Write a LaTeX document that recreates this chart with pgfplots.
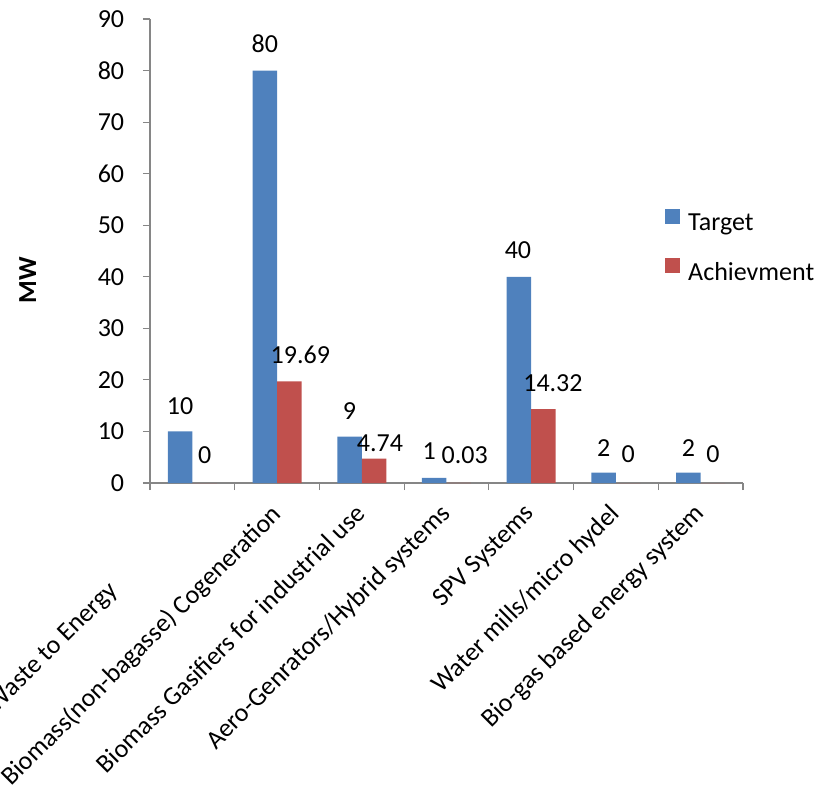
\documentclass[border=0pt]{standalone}
\usepackage{fontspec}
\setmainfont{Carlito}
\usepackage{pgfplots}
\pgfplotsset{compat=1.18}
\usepackage{pgfplotstable}

\definecolor{tgt}{HTML}{4F81BD}
\definecolor{ach}{HTML}{C0504D}
\definecolor{axgray}{HTML}{868686}

% x: category index, y: MW, dx/dy: label offset from the bar top (bp), lab: label text
\pgfplotstableread{
x y dx dy lab
0 10 0 25 10
1 80 0 26.5 80
2 9 0 26 9
3 1 -5 27 1
4 40 -1 27 40
5 2 0 25 2
6 2 0 25 2
}\target

\pgfplotstableread{
x y dx dy lab
0 0 0 28 0
1 19.69 11 27 19.69
2 4.74 6 15.5 4.74
3 0.03 6 27.5 0.03
4 14.32 9.5 26.5 14.32
5 0 0 29 0
6 0 0 29 0
}\achieve

\begin{document}
\fontsize{26bp}{31bp}\selectfont
\begin{tikzpicture}
\begin{axis}[
  at={(0,0)}, anchor=south west,
  scale only axis, width=593bp, height=464bp,
  ybar=0pt, bar width=24.5bp,
  enlargelimits=false,
  xmin=-0.5, xmax=6.5, ymin=0, ymax=90,
  ytick={0,10,...,90},
  xtick={0,...,6},
  xticklabels={Waste to Energy\hspace*{110bp},
    Biomass(non-bagasse) Cogeneration,
    Biomass Gasifiers for industrial use,
    Aero-Genrators/Hybrid systems,
    SPV Systems,
    Water mills/micro hydel,
    Bio-gas based energy system},
  minor xtick={-0.5,0.5,...,6.5},
  axis lines=left,
  axis line style={-, draw=axgray, line width=1.1bp},
  tick align=outside,
  major tick length=7bp, minor tick length=7bp,
  major x tick style={draw=none},
  minor x tick style={draw=axgray, line width=1.1bp},
  major y tick style={draw=axgray, line width=1.1bp},
  /pgf/number format/assume math mode=true,
  xticklabel style={xshift=-8bp, yshift=-12bp, rotate=45, anchor=north east, inner sep=0pt},
  yticklabel style={xshift=-10bp},
  ylabel={\bfseries MW},
  ylabel style={at={(axis description cs:0,0.4375)}, anchor=south, yshift=105bp},
  legend style={at={(axis description cs:0.8685,0.508)}, anchor=west,
    draw=none, fill=none, row sep=22bp, column sep=6bp, inner sep=0pt},
  legend cell align=left,
  legend image code/.code={\fill[#1] (0bp,0bp) rectangle (15bp,15bp);},
  point meta=explicit symbolic,
  visualization depends on={\thisrow{dx}\as\lbldx},
  visualization depends on={\thisrow{dy}\as\lbldy},
  nodes near coords,
  nodes near coords style={anchor=center, xshift=\lbldx bp, yshift=\lbldy bp, text=black},
]
\addplot[fill=tgt, draw=none] table[x=x, y=y, meta=lab] {\target};
\addplot[fill=ach, draw=none] table[x=x, y=y, meta=lab] {\achieve};
\legend{Target, Achievment}
\end{axis}
\pgfresetboundingbox
\useasboundingbox (-150bp,-311bp) rectangle (678bp,483bp);
\end{tikzpicture}
\end{document}
